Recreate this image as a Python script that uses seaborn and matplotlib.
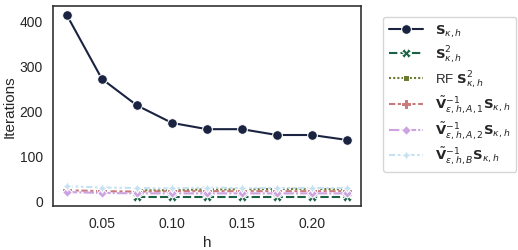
import numpy   as np
import pandas  as pd
import seaborn as sns

from matplotlib import pyplot as plt

sns.set_style("white")
plt.rcParams['font.family'] = ['Liberation Sans', 'DejaVu Sans']

h = [0.025, 0.05, 0.075, 0.10, 0.125, 0.15, 0.175, 0.20, 0.225]

s_kh     = [412, 270, 211, 172, 158, 158, 145, 145, 134]
s2_kh    = [np.nan, np.nan, 7, 7, 7, 7, 7, 7, 7]
rf_s2_kh = [np.nan, np.nan, 22, 22, 24, 24, 25, 25, 24]
v_a1     = [22, 20, 19, 20, 20, 20, 20, 20, 20]
v_a2     = [18, 16, 15, 15, 15, 15, 15, 15, 15]
v_b      = [31, 28, 27, 26, 28, 27, 27, 27, 27]

labels = [r"$\mathbf{S}_{\kappa,h}$",
          r"$\mathbf{S}^2_{\kappa,h}$",
          r"RF $\mathbf{S}^2_{\kappa,h}$",
          r"$\tilde{\mathbf{V}}^{-1}_{\varepsilon,h,A,1}\mathbf{S}_{\kappa,h}$",
          r"$\tilde{\mathbf{V}}^{-1}_{\varepsilon,h,A,2}\mathbf{S}_{\kappa,h}$",
          r"$\tilde{\mathbf{V}}^{-1}_{\varepsilon,h,B}\mathbf{S}_{\kappa,h}$"]
series = [s_kh, s2_kh, rf_s2_kh, v_a1, v_a2, v_b]

rows = []
for lab, vals in zip(labels, series):
    for x, y in zip(h, vals):
        if not np.isnan(y):
            rows.append({'h': x, 'Iterations': y, 'method': lab})
data = pd.DataFrame(rows)

fig = plt.figure(figsize=(5.18, 2.51), dpi=100)
ax  = fig.add_axes([0.102, 0.175, 0.595, 0.797])

sns.lineplot(data=data, x='h', y='Iterations', hue='method', style='method',
             hue_order=labels, style_order=labels,
             markers=True, dashes=True, palette='cubehelix',
             markersize=7, ax=ax)

for sp in ax.spines.values():
    sp.set_color('#333333')
    sp.set_linewidth(1.2)

ax.set_xlabel('h', fontsize=11)
ax.set_ylabel('Iterations', fontsize=11, labelpad=2)
ax.tick_params(labelsize=10)
ax.set_xticks([0.05, 0.10, 0.15, 0.20])
ax.set_yticks([0, 100, 200, 300, 400])
ax.legend(loc='upper left', bbox_to_anchor=(1.05, 0.98), fontsize=9.5,
          title=None, handlelength=2.6, labelspacing=0.3, borderpad=0.45,
          handletextpad=0.9)

fig.savefig('out.png', dpi=100)
